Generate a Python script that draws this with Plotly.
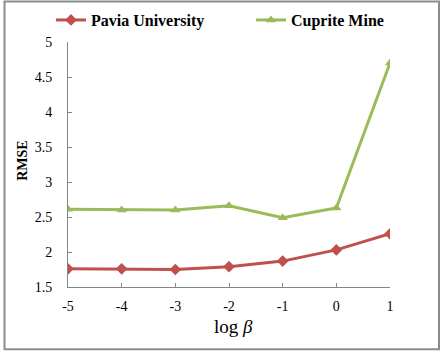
import plotly.graph_objects as go

log_beta = [-5, -4, -3, -2, -1, 0, 1]
x_tick_text = ["-5", "-4", "-3", "-2", "-1", "0", "1"]
pavia = [1.76, 1.76, 1.75, 1.79, 1.87, 2.03, 2.26]
cuprite = [2.61, 2.60, 2.60, 2.66, 2.49, 2.63, 4.70]
y_ticks = [1.5, 2, 2.5, 3, 3.5, 4, 4.5, 5]
y_tick_text = ["1.5", "2", "2.5", "3", "3.5", "4", "4.5", "5"]

RED = "#C0504D"
GREEN = "#9BBB59"
FONT = "Liberation Serif"

L, R, T, B = 68, 53, 42, 68.5
W, H = 443, 356
pw = W - L - R
ph = H - T - B

def px_to_paper_x(px):
    return (px - L) / pw

def px_to_paper_y(py):
    return (H - B - py) / ph

fig = go.Figure()
fig.add_trace(go.Scatter(x=log_beta, y=pavia, mode="lines+markers", name="<b>Pavia University</b>",
                         line=dict(color=RED, width=3),
                         marker=dict(symbol="diamond", size=9, color=RED), legend="legend"))
fig.add_trace(go.Scatter(x=log_beta, y=cuprite, mode="lines+markers", name="<b>Cuprite Mine</b>",
                         line=dict(color=GREEN, width=3),
                         marker=dict(symbol="triangle-up", size=9, color=GREEN), legend="legend2"))

leg_font = dict(family=FONT, size=16, color="black")
fig.update_layout(
    width=W, height=H,
    margin=dict(l=L, r=R, t=T, b=B, autoexpand=False),
    paper_bgcolor="white", plot_bgcolor="white",
    font=dict(family=FONT, size=14, color="black"),
    showlegend=True,
    legend=dict(orientation="h", x=px_to_paper_x(51), y=px_to_paper_y(20),
                xanchor="left", yanchor="middle", font=leg_font, itemwidth=30,
                bgcolor="rgba(0,0,0,0)"),
    legend2=dict(orientation="h", x=px_to_paper_x(251), y=px_to_paper_y(20),
                 xanchor="left", yanchor="middle", font=leg_font, itemwidth=30,
                 bgcolor="rgba(0,0,0,0)"),
    xaxis=dict(range=[-5, 1], tickvals=log_beta, ticktext=x_tick_text, ticks="inside", ticklen=4,
               tickcolor="#868686", showline=True, linecolor="#868686", linewidth=1,
               showgrid=False, zeroline=False, ticklabelstandoff=6,
               tickfont=dict(family=FONT, size=14)),
    yaxis=dict(range=[1.5, 5], tickvals=y_ticks, ticktext=y_tick_text, ticks="inside", ticklen=4,
               tickcolor="#868686", showline=True, linecolor="#868686", linewidth=1,
               showgrid=False, zeroline=False, ticklabelstandoff=12,
               tickfont=dict(family=FONT, size=14)),
)

fig.add_annotation(text="log <i>β</i>", xref="paper", yref="paper",
                   x=px_to_paper_x(233), y=px_to_paper_y(327), xanchor="center", yanchor="middle",
                   showarrow=False, font=dict(family=FONT, size=19, color="black"))
fig.add_annotation(text="<b>RMSE</b>", xref="paper", yref="paper", textangle=-90,
                   x=px_to_paper_x(23), y=px_to_paper_y(161), xanchor="center", yanchor="middle",
                   showarrow=False, font=dict(family=FONT, size=14, color="black"))

fig.add_shape(type="rect", xref="paper", yref="paper",
              x0=px_to_paper_x(4.5), x1=px_to_paper_x(439),
              y0=px_to_paper_y(350), y1=px_to_paper_y(1.5),
              line=dict(color="#8C8C8C", width=2), layer="below")

fig.write_html("out.html", config={"displayModeBar": False},
               post_script="document.body.style.margin='0';document.body.style.padding='0';")
